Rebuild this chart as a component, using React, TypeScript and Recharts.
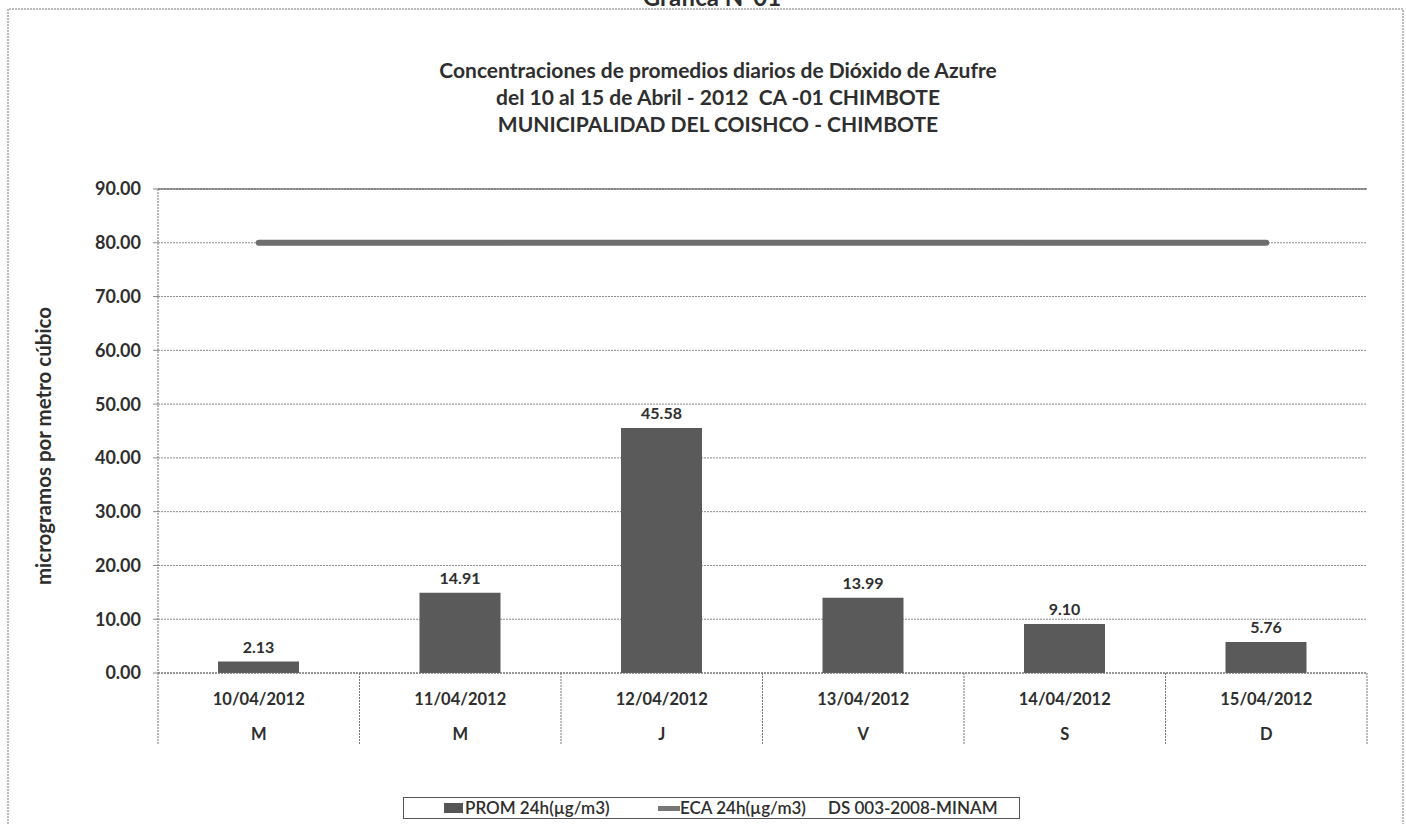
import { ComposedChart, Bar, Line, XAxis, YAxis, CartesianGrid, ReferenceLine, LabelList, Legend, Customized } from 'recharts'

const dates = ['10/04/2012', '11/04/2012', '12/04/2012', '13/04/2012', '14/04/2012', '15/04/2012']
const days = ['M', 'M', 'J', 'V', 'S', 'D']
const prom = [2.13, 14.91, 45.58, 13.99, 9.1, 5.76]
const eca = [80, 80, 80, 80, 80, 80]
const yTicks = [0, 10, 20, 30, 40, 50, 60, 70, 80, 90]
const titleLines = [
    'Concentraciones de promedios diarios de Dióxido de Azufre',
    'del 10 al 15 de Abril - 2012  CA -01 CHIMBOTE',
    'MUNICIPALIDAD DEL COISHCO - CHIMBOTE',
]

const data = dates.map((d, i) => ({ date: d, day: days[i], prom: prom[i], eca: eca[i] }))

const FONT = 'Lato, "Open Sans", sans-serif'
const TEXT = '#2e2e2e'

const DateTick = (props: any) => {
    const { x, y, payload, index } = props
    const half = payload.offset ?? 100.75
    const i = payload.index ?? index
    const last = i === dates.length - 1
    return (
        <g>
            <line x1={x - half} y1={y} x2={x - half} y2={y + 72} stroke="#777" strokeDasharray="2 1" />
            {last && <line x1={x + half} y1={y} x2={x + half} y2={y + 72} stroke="#777" strokeDasharray="2 1" />}
            <text x={x} y={y + 32} textAnchor="middle" fontFamily={FONT} fontWeight={700} fontSize={16.5} fill={TEXT}>
                {payload.value}
            </text>
            <text x={x} y={y + 67} textAnchor="middle" fontFamily={FONT} fontWeight={700} fontSize={16.5} fill={TEXT}>
                {days[i]}
            </text>
        </g>
    )
}

const LegendBox = () => (
    <div style={{
        position: 'relative', width: 617, height: 22, boxSizing: 'border-box', border: '1px solid #555',
        fontFamily: FONT, fontSize: 17, fontWeight: 600, color: TEXT, lineHeight: '20px',
    }}>
        <span style={{ position: 'absolute', left: 40, top: 5, width: 19, height: 10, background: '#555' }} />
        <span style={{ position: 'absolute', left: 61, top: 0, whiteSpace: 'pre' }}>PROM 24h(µg/m3)</span>
        <span style={{ position: 'absolute', left: 254, top: 8, width: 22, height: 5, background: '#777' }} />
        <span style={{ position: 'absolute', left: 276, top: 0, whiteSpace: 'pre' }}>ECA 24h(µg/m3)</span>
        <span style={{ position: 'absolute', left: 424, top: 0, whiteSpace: 'pre' }}>DS 003-2008-MINAM</span>
    </div>
)

const Decorations = () => (
    <g>
        <path d="M8,824 L8,9 L1403,9 L1403,824" fill="none" stroke="#777" strokeDasharray="2 1" />
        <text x={712} y={6} textAnchor="middle" fontFamily={FONT} fontWeight={700} fontSize={24} fill={TEXT}>
            Grafica N°01
        </text>
        {titleLines.map((t, i) => (
            <text key={i} x={718} y={78 + i * 27} textAnchor="middle" fontFamily={FONT} fontWeight={700}
                fontSize={21} fill={TEXT} style={{ whiteSpace: 'pre' }}>
                {t}
            </text>
        ))}
        <text x={51} y={446} transform="rotate(-90 51 446)" textAnchor="middle" fontFamily={FONT}
            fontWeight={700} fontSize={20.5} fill={TEXT}>
            microgramos por metro cúbico
        </text>
    </g>
)

export default function App() {
    return (
        <div style={{ position: 'absolute', left: 0, top: 0, width: 1406, height: 824, background: '#fff' }}>
            <ComposedChart width={1406} height={824} data={data}
                margin={{ top: 189, right: 39, bottom: 49, left: 98 }}>
                <CartesianGrid horizontal vertical={false} stroke="#8a8a8a" strokeDasharray="2 1" />
                <XAxis dataKey="date" height={80} interval={0} tickLine={false} tickSize={0} tickMargin={0}
                    axisLine={{ stroke: '#666', strokeDasharray: '2 1' }} tick={<DateTick />} />
                <YAxis width={60} domain={[0, 90]} ticks={yTicks} interval={0} tickSize={5} tickMargin={12}
                    tickLine={{ stroke: '#888' }} axisLine={{ stroke: '#777', strokeDasharray: '2 1' }}
                    tickFormatter={(v: number) => v.toFixed(2)}
                    tick={{ fontFamily: FONT, fontWeight: 700, fontSize: 18, fill: TEXT }} />
                <YAxis yAxisId="r" orientation="right" width={0} tick={false} tickLine={false}
                    axisLine={{ stroke: '#444' }} />
                <ReferenceLine y={90} stroke="#444" />
                <Bar dataKey="prom" name="PROM 24h(µg/m3)" fill="#5a5a5a" barSize={81} isAnimationActive={false}>
                    <LabelList dataKey="prom" position="top" offset={9}
                        formatter={(v: any) => Number(v).toFixed(2)}
                        style={{ fontFamily: FONT, fontWeight: 700, fontSize: 16, fill: TEXT }} />
                </Bar>
                <Line dataKey="eca" name="ECA 24h(µg/m3)" stroke="#6e6e6e" strokeWidth={6} strokeLinecap="round"
                    dot={false} activeDot={false} isAnimationActive={false} />
                <Legend verticalAlign="bottom" content={<LegendBox />}
                    wrapperStyle={{ left: 403, top: 797, bottom: 'auto', width: 617 }} />
                <Customized component={<Decorations />} />
            </ComposedChart>
        </div>
    )
}
